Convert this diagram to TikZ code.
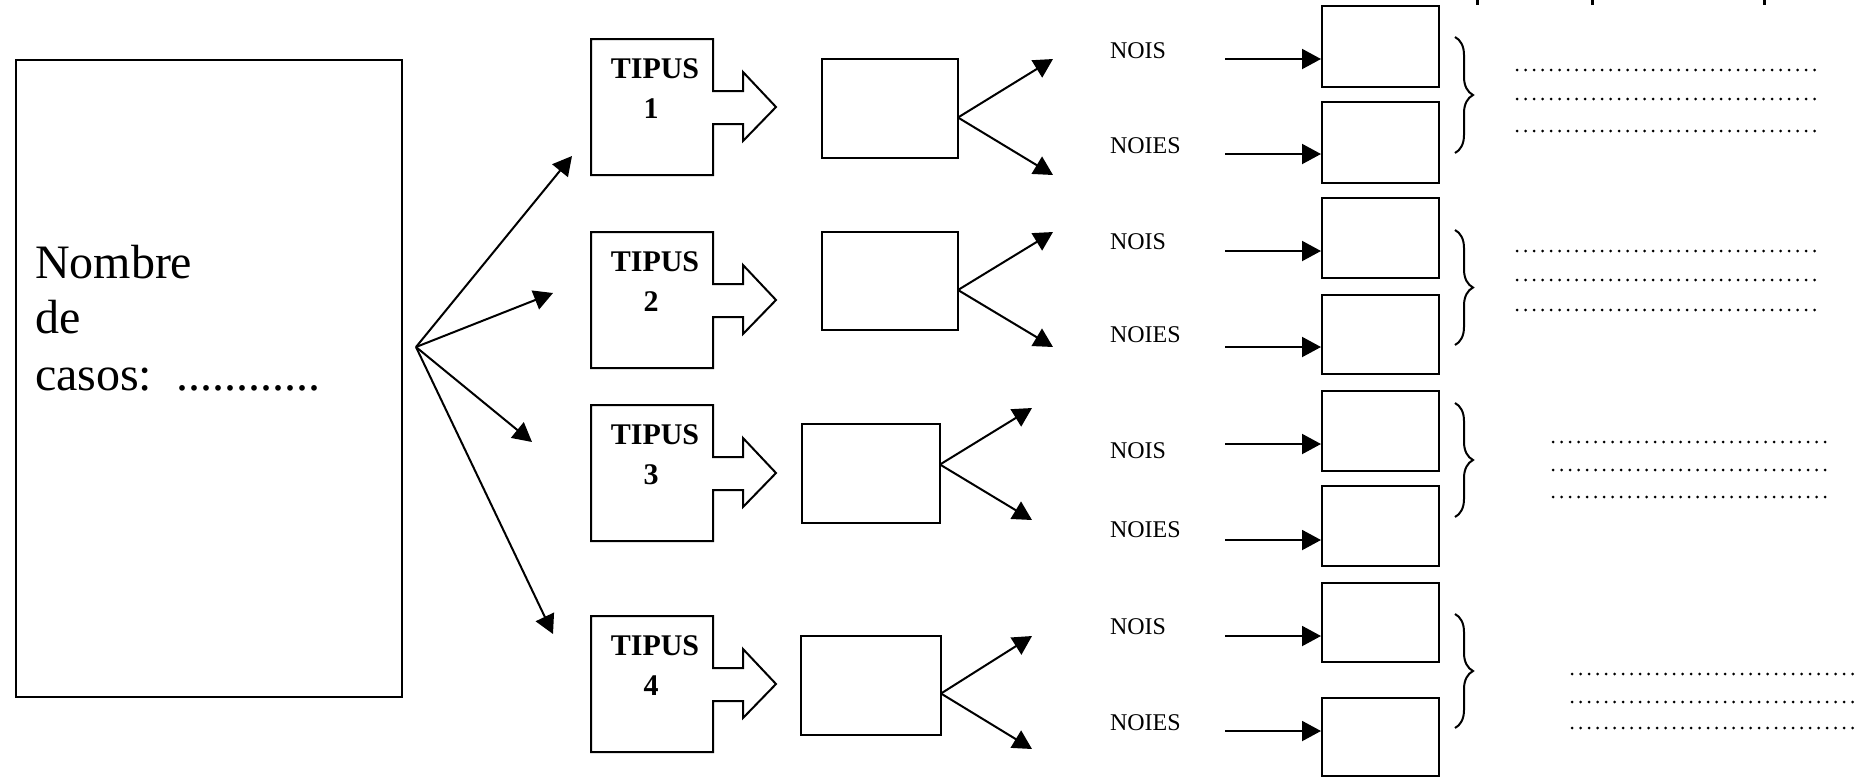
\documentclass[tikz,border=0pt]{standalone}
\usepackage{fontspec}
\setmainfont{Liberation Serif}
\usetikzlibrary{arrows.meta,decorations.pathreplacing,calc}

\begin{document}
\begin{tikzpicture}[x=1pt,y=-1pt,
  line width=2pt,
  box/.style={draw, line width=2pt, inner sep=0pt, anchor=north west},
  arr/.style={-{Triangle[length=19pt,width=20pt]}, line width=2pt},
  lbl/.style={font=\fontsize{24}{24}\selectfont, anchor=base west, inner sep=0pt},
  big/.style={font=\fontsize{48}{56}\selectfont, anchor=base west, inner sep=0pt},
  tipus/.style={font=\fontsize{30}{40}\selectfont\bfseries, anchor=base, inner sep=0pt},
  brc/.style={decorate, decoration={brace, amplitude=18pt}, line width=2pt},
  dotrow/.style={line width=3pt, line cap=round, dash pattern=on 0pt off 8.5pt}
]
\useasboundingbox (0,0) rectangle (1865,780);

% marks cut at the top edge
\foreach \x in {1477,1592,1764}
  \draw[line width=3pt] (\x,0) -- (\x,5);

% case counter
\node[box, minimum width=386pt, minimum height=637pt] (cases) at (15,59) {};
\node[big] (nb1) at (34,278) {Nombre};
\node[big] (nb2) at (34,333) {de};
\node[big] (nb3) at (34,390) {casos:\ \ ............};

% fan towards the four types
\coordinate (o) at (416,347);
\coordinate (f1) at (572,156);
\coordinate (f2) at (553,293);
\coordinate (f3) at (532,442);
\coordinate (f4) at (553,634);
\foreach \i in {1,...,4}
  \draw[arr] (o) -- (f\i);

% type shapes: box with a block arrow on the right
\foreach \i/\cy in {1/107,2/300,3/473,4/684}{
  \draw (591,{\cy-68}) -- (713,{\cy-68}) -- (713,{\cy-16}) -- (743,{\cy-16})
    -- (743,{\cy-35}) -- (776,\cy) -- (743,{\cy+34}) -- (743,{\cy+17})
    -- (713,{\cy+17}) -- (713,{\cy+68}) -- (591,{\cy+68}) -- cycle;
  \node[tipus] (tw\i) at (655,{\cy-29}) {TIPUS};
  \node[tipus] (tn\i) at (651,{\cy+11}) {\i};
}

% middle boxes with their forks
\node[box, minimum width=136pt, minimum height=99pt] (m1) at (821,58) {};
\node[box, minimum width=136pt, minimum height=98pt] (m2) at (821,231) {};
\node[box, minimum width=138pt, minimum height=99pt] (m3) at (801,423) {};
\node[box, minimum width=140pt, minimum height=99pt] (m4) at (800,635) {};
\coordinate (u1) at (1053,59);  \coordinate (d1) at (1053,175);
\coordinate (u2) at (1053,232); \coordinate (d2) at (1053,347);
\coordinate (u3) at (1032,408); \coordinate (d3) at (1032,520);
\coordinate (u4) at (1032,636); \coordinate (d4) at (1032,749);
\foreach \i/\dy in {1/9,2/9,3/-9,4/8}{
  \coordinate (k\i) at ($(m\i.east)+(-1,\dy)$);
  \draw[arr] (k\i) -- (u\i);
  \draw[arr] (k\i) -- (d\i);
}

% labels
\node[lbl] (l1) at (1109,58)  {NOIS};
\node[lbl] (l2) at (1109,153) {NOIES};
\node[lbl] (l3) at (1109,249) {NOIS};
\node[lbl] (l4) at (1109,342) {NOIES};
\node[lbl] (l5) at (1109,458) {NOIS};
\node[lbl] (l6) at (1109,537) {NOIES};
\node[lbl] (l7) at (1109,634) {NOIS};
\node[lbl] (l8) at (1109,730) {NOIES};

% answer boxes
\foreach \i/\t/\h in {1/5/81,2/101/81,3/197/80,4/294/79,5/390/80,6/485/80,7/582/79,8/697/78}
  \node[box, minimum width=117pt, minimum height=\h pt] (r\i) at (1321,\t) {};

% arrows into the answer boxes
\foreach \i/\y in {1/59,2/154,3/251,4/347,5/444,6/540,7/636,8/731}{
  \coordinate (h\i) at (1225,\y);
  \draw[arr] (h\i) -- (h\i -| r\i.west);
}

% braces
\draw[brc] (1455,37) -- (1455,153);
\draw[brc] (1455,230) -- (1455,345);
\draw[brc] (1455,403) -- (1455,517);
\draw[brc] (1455,614) -- (1455,728);

% dotted answer lines
\foreach \y in {70,99,131}   \draw[dotrow] (1517,\y) -- (1822,\y);
\foreach \y in {251,280,310} \draw[dotrow] (1517,\y) -- (1822,\y);
\foreach \y in {442,470,497} \draw[dotrow] (1553,\y) -- (1833,\y);
\foreach \y in {674,702,728} \draw[dotrow] (1572,\y) -- (1857,\y);
\end{tikzpicture}
\end{document}
